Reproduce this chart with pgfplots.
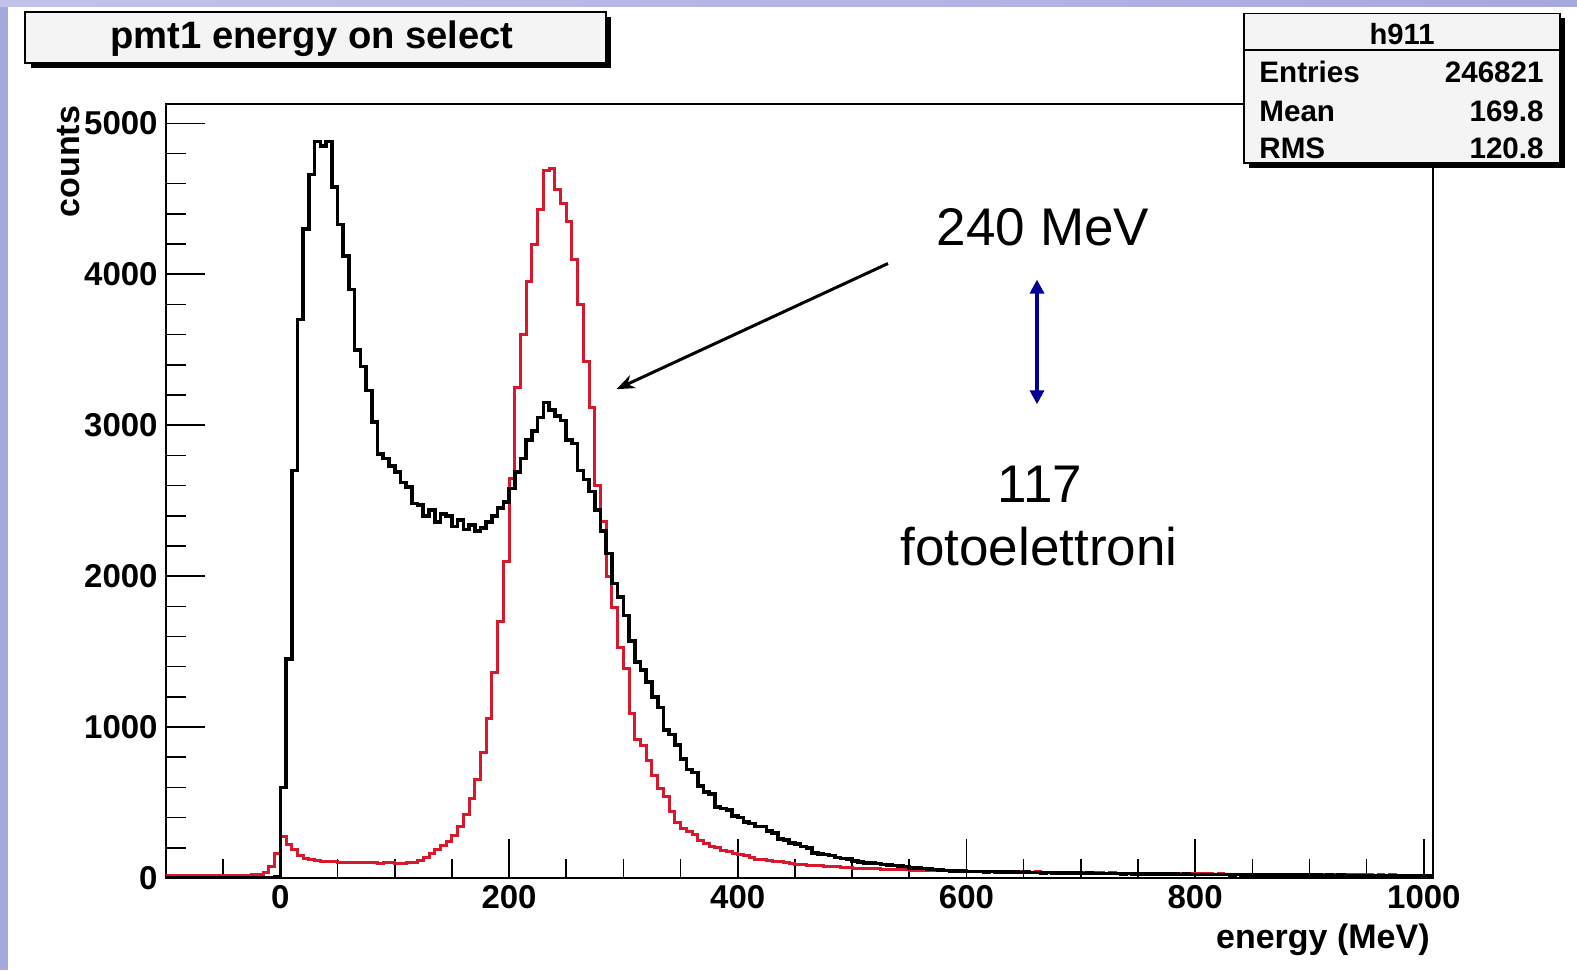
\documentclass[border=0pt]{standalone}
\usepackage{fontspec}
\setmainfont{Liberation Sans}
\usepackage{pgfplots}
\pgfplotsset{compat=1.18}
\usepackage{pgfplotstable}
\usetikzlibrary{arrows.meta}

\definecolor{rootred}{RGB}{215,25,45}
\definecolor{navyarrow}{RGB}{0,0,150}
\definecolor{lav}{RGB}{168,168,224}
\definecolor{boxfill}{RGB}{244,244,244}

\pgfplotstableread[row sep=\\]{
x y\\
-100 0\\ -95 0\\ -90 0\\ -85 0\\ -80 0\\ -75 0\\ -70 0\\ -65 0\\ -60 0\\ -55 0\\ -50 0\\ -45 0\\ -40 0\\ -35 0\\ -30 0\\ -25 0\\ -20 0\\ -15 0\\ -10 2\\ -5 8\\
0 600\\ 5 1450\\ 10 2700\\ 15 3700\\ 20 4300\\ 25 4660\\ 30 4880\\ 35 4850\\ 40 4880\\ 45 4580\\
50 4330\\ 55 4120\\ 60 3900\\ 65 3500\\ 70 3390\\ 75 3230\\ 80 3020\\ 85 2810\\ 90 2780\\ 95 2730\\
100 2690\\ 105 2620\\ 110 2590\\ 115 2480\\ 120 2470\\ 125 2400\\ 130 2440\\ 135 2360\\ 140 2410\\ 145 2400\\
150 2330\\ 155 2370\\ 160 2310\\ 165 2340\\ 170 2300\\ 175 2320\\ 180 2360\\ 185 2400\\ 190 2450\\ 195 2490\\
200 2580\\ 205 2690\\ 210 2780\\ 215 2900\\ 220 2960\\ 225 3050\\ 230 3150\\ 235 3100\\ 240 3060\\ 245 3030\\
250 2900\\ 255 2880\\ 260 2700\\ 265 2640\\ 270 2560\\ 275 2440\\ 280 2300\\ 285 2150\\ 290 1950\\ 295 1860\\
300 1740\\ 305 1570\\ 310 1430\\ 315 1380\\ 320 1300\\ 325 1200\\ 330 1130\\ 335 980\\ 340 950\\ 345 880\\
350 790\\ 355 720\\ 360 700\\ 365 610\\ 370 570\\ 375 555\\ 380 470\\ 385 460\\ 390 450\\ 395 410\\
400 400\\ 405 370\\ 410 360\\ 415 340\\ 420 340\\ 425 310\\ 430 300\\ 435 260\\ 440 250\\ 445 230\\
450 225\\ 455 210\\ 460 200\\ 465 165\\ 470 160\\ 475 155\\ 480 150\\ 485 135\\ 490 130\\ 495 125\\
500 112\\ 505 108\\ 510 100\\ 515 98\\ 520 95\\ 525 90\\ 530 88\\ 535 84\\ 540 80\\ 545 75\\
550 68\\ 555 66\\ 560 62\\ 565 58\\ 570 56\\ 575 53\\ 580 50\\ 585 48\\ 590 47\\ 595 45\\
600 44\\ 605 43\\ 610 42\\ 615 41\\ 620 42\\ 625 40\\ 630 39\\ 635 40\\ 640 38\\ 645 37\\
650 38\\ 655 36\\ 660 36\\ 665 35\\ 670 36\\ 675 34\\ 680 33\\ 685 34\\ 690 32\\ 695 33\\
700 31\\ 705 32\\ 710 30\\ 715 31\\ 720 30\\ 725 29\\ 730 30\\ 735 28\\ 740 29\\ 745 27\\
750 28\\ 755 27\\ 760 26\\ 765 27\\ 770 25\\ 775 26\\ 780 25\\ 785 24\\ 790 25\\ 795 24\\
800 23\\ 805 24\\ 810 23\\ 815 22\\ 820 23\\ 825 22\\ 830 21\\ 835 22\\ 840 21\\ 845 20\\
850 21\\ 855 20\\ 860 21\\ 865 19\\ 870 20\\ 875 19\\ 880 20\\ 885 18\\ 890 19\\ 895 18\\
900 19\\ 905 18\\ 910 17\\ 915 18\\ 920 17\\ 925 18\\ 930 17\\ 935 16\\ 940 17\\ 945 16\\
950 17\\ 955 16\\ 960 15\\ 965 16\\ 970 15\\ 975 16\\ 980 15\\ 985 15\\ 990 16\\ 995 14\\
1000 15\\ 1005 14\\ 1010 14\\
}\blackdata

\pgfplotstableread[row sep=\\]{
x y\\
-100 15\\ -95 14\\ -90 16\\ -85 15\\ -80 14\\ -75 16\\ -70 15\\ -65 16\\ -60 15\\ -55 17\\ -50 16\\ -45 17\\ -40 16\\ -35 18\\ -30 18\\ -25 20\\ -20 24\\ -15 38\\ -10 75\\ -5 160\\
0 275\\ 5 220\\ 10 190\\ 15 150\\ 20 130\\ 25 125\\ 30 115\\ 35 110\\ 40 108\\ 45 112\\
50 105\\ 55 102\\ 60 106\\ 65 100\\ 70 103\\ 75 104\\ 80 100\\ 85 98\\ 90 104\\ 95 100\\
100 98\\ 105 96\\ 110 100\\ 115 105\\ 120 118\\ 125 138\\ 130 162\\ 135 188\\ 140 215\\ 145 245\\
150 280\\ 155 340\\ 160 420\\ 165 530\\ 170 650\\ 175 830\\ 180 1060\\ 185 1360\\ 190 1700\\ 195 2100\\
200 2650\\ 205 3250\\ 210 3600\\ 215 3950\\ 220 4200\\ 225 4430\\ 230 4690\\ 235 4700\\ 240 4560\\ 245 4470\\
250 4350\\ 255 4100\\ 260 3800\\ 265 3420\\ 270 3120\\ 275 2600\\ 280 2360\\ 285 2000\\ 290 1790\\ 295 1530\\
300 1390\\ 305 1090\\ 310 920\\ 315 880\\ 320 780\\ 325 680\\ 330 590\\ 335 540\\ 340 440\\ 345 370\\
350 330\\ 355 310\\ 360 285\\ 365 250\\ 370 230\\ 375 210\\ 380 205\\ 385 180\\ 390 175\\ 395 165\\
400 155\\ 405 150\\ 410 135\\ 415 122\\ 420 120\\ 425 115\\ 430 110\\ 435 108\\ 440 105\\ 445 96\\
450 92\\ 455 90\\ 460 85\\ 465 82\\ 470 80\\ 475 78\\ 480 78\\ 485 75\\ 490 72\\ 495 68\\
500 66\\ 505 64\\ 510 63\\ 515 62\\ 520 60\\ 525 58\\ 530 57\\ 535 55\\ 540 55\\ 545 54\\
550 52\\ 555 51\\ 560 50\\ 565 49\\ 570 48\\ 575 48\\ 580 47\\ 585 46\\ 590 46\\ 595 45\\
600 45\\ 605 44\\ 610 44\\ 615 43\\ 620 45\\ 625 42\\ 630 42\\ 635 43\\ 640 41\\ 645 40\\
650 41\\ 655 39\\ 660 40\\ 665 38\\ 670 39\\ 675 37\\ 680 38\\ 685 36\\ 690 37\\ 695 35\\
700 36\\ 705 35\\ 710 34\\ 715 35\\ 720 33\\ 725 34\\ 730 32\\ 735 33\\ 740 32\\ 745 31\\
750 32\\ 755 30\\ 760 31\\ 765 30\\ 770 29\\ 775 30\\ 780 29\\ 785 28\\ 790 29\\ 795 28\\
800 27\\ 805 28\\ 810 27\\ 815 26\\ 820 27\\ 825 26\\ 830 25\\ 835 26\\ 840 25\\ 845 26\\
850 24\\ 855 25\\ 860 24\\ 865 25\\ 870 23\\ 875 24\\ 880 23\\ 885 24\\ 890 22\\ 895 23\\
900 22\\ 905 23\\ 910 21\\ 915 22\\ 920 21\\ 925 22\\ 930 20\\ 935 21\\ 940 20\\ 945 21\\
950 20\\ 955 19\\ 960 20\\ 965 19\\ 970 20\\ 975 18\\ 980 19\\ 985 18\\ 990 19\\ 995 18\\
1000 18\\ 1005 17\\ 1010 17\\
}\reddata

\begin{document}
\begin{tikzpicture}
% canvas (1 px of the reference = 0.5pt)
\fill[white] (0,0) rectangle (788.5pt,485pt);
\fill[lav] (0,0) rectangle (4pt,485pt);
\shade[left color=lav!70, right color=lav] (0,481.5pt) rectangle (788.5pt,485pt);

\begin{axis}[
  at={(83pt,46pt)}, anchor=south west,
  scale only axis, width=633.5pt, height=387pt,
  xmin=-100, xmax=1008, ymin=0, ymax=5128,
  axis line style={line width=1pt},
  tick align=inside,
  xtick pos=lower, ytick pos=left,
  xtick={0,200,400,600,800,1000},
  ytick={0,1000,2000,3000,4000,5000},
  minor xtick={-50,50,100,150,250,300,350,450,500,550,650,700,750,850,900,950},
  minor y tick num=4,
  major tick length=19.5pt, minor tick length=9.75pt,
  every tick/.style={line width=0.8pt, black},
  scaled ticks=false,
  /pgf/number format/1000 sep={},
  /pgf/number format/assume math mode=true,
  xticklabel style={font=\bfseries\fontsize{16.5}{18}\selectfont, inner sep=0pt, yshift=-3.5pt},
  yticklabel style={font=\bfseries\fontsize{16.5}{18}\selectfont, inner sep=0pt, xshift=-4pt},
]
\addplot[const plot mark left, rootred, line width=1.5pt] table[x=x, y=y] {\reddata};
\addplot[const plot mark left, black, line width=1.8pt] table[x=x, y=y] {\blackdata};
\end{axis}

% axis titles
\node[rotate=90, anchor=east, inner sep=0pt, font=\bfseries\fontsize{17}{20}\selectfont] at (34.4pt,432.2pt) {counts};
\node[anchor=base east, inner sep=0pt, font=\bfseries\fontsize{17}{20}\selectfont] at (715pt,11pt) {energy (MeV)};

% title box
\fill[black] (15.5pt,451pt) rectangle (305.5pt,476.5pt);
\filldraw[fill=boxfill, draw=black, line width=0.6pt] (12.5pt,453.5pt) rectangle (303pt,479pt);
\node[anchor=base, inner sep=0pt, font=\bfseries\fontsize{19.1}{22}\selectfont] at (156pt,460.85pt) {pmt1 energy on select};

% stats box
\fill[black] (624.5pt,401pt) rectangle (782.5pt,476pt);
\filldraw[fill=boxfill, draw=black, line width=0.6pt] (622pt,403.5pt) rectangle (780pt,478.3pt);
\draw[line width=0.6pt] (622pt,460pt) -- (780pt,460pt);
\node[anchor=base, inner sep=0pt, font=\bfseries\fontsize{14.6}{16}\selectfont] at (701pt,462.5pt) {h911};
\node[anchor=base west, inner sep=0pt, font=\bfseries\fontsize{14.8}{16}\selectfont] at (629.5pt,443.5pt) {Entries};
\node[anchor=base east, inner sep=0pt, font=\bfseries\fontsize{14.8}{16}\selectfont] at (772pt,443.5pt) {246821};
\node[anchor=base west, inner sep=0pt, font=\bfseries\fontsize{14.8}{16}\selectfont] at (629.5pt,424.2pt) {Mean};
\node[anchor=base east, inner sep=0pt, font=\bfseries\fontsize{14.8}{16}\selectfont] at (772pt,424.2pt) {169.8};
\node[anchor=base west, inner sep=0pt, font=\bfseries\fontsize{14.8}{16}\selectfont] at (629.5pt,405.8pt) {RMS};
\node[anchor=base east, inner sep=0pt, font=\bfseries\fontsize{14.8}{16}\selectfont] at (772pt,405.8pt) {120.8};

% annotations
\draw[line width=1.5pt, -{Stealth[length=9pt,width=7pt]}] (444pt,353.25pt) -- (308.25pt,290.4pt);
\draw[navyarrow, line width=1.7pt, {Triangle[length=7pt,width=7pt]}-{Triangle[length=7pt,width=7pt]}] (518.5pt,345.2pt) -- (518.5pt,282.85pt);
\node[anchor=base, inner sep=0pt, font=\fontsize{26.5}{30}\selectfont] at (521.5pt,362pt) {240 MeV};
\node[anchor=base, inner sep=0pt, font=\fontsize{26.5}{30}\selectfont] at (520pt,233.6pt) {117};
\node[anchor=base, inner sep=0pt, font=\fontsize{26.5}{30}\selectfont] at (519.5pt,202.5pt) {fotoelettroni};
\end{tikzpicture}
\end{document}
